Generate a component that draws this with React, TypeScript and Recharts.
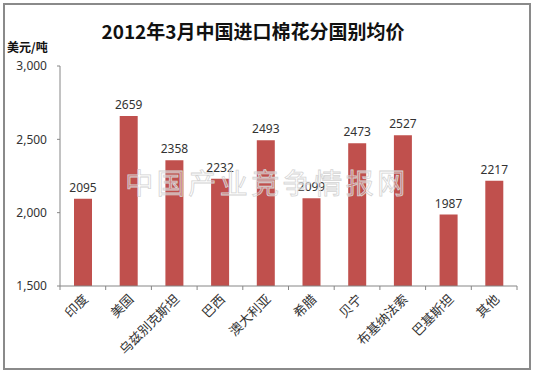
import { BarChart, Bar, XAxis, YAxis, LabelList } from "recharts";

// 2012年3月 中国进口棉花 分国别均价（美元/吨）
const countries = [
  "印度",
  "美国",
  "乌兹别克斯坦",
  "巴西",
  "澳大利亚",
  "希腊",
  "贝宁",
  "布基纳法索",
  "巴基斯坦",
  "其他",
];
const prices = [2095, 2659, 2358, 2232, 2493, 2099, 2473, 2527, 1987, 2217];
const yTicks = [1500, 2000, 2500, 3000];

const chartData = countries.map((name, i) => ({ name, price: prices[i] }));

if (typeof document !== "undefined") document.body.style.margin = "0";

const CJK = '"Noto Sans CJK SC", "Noto Sans", sans-serif';
const AXIS = "#868686";

// category label rotated 45°, plus Excel-style ticks on the category boundaries
function CategoryTick(props: any) {
  const { x, y, payload, index, visibleTicksCount } = props;
  const half = payload.offset || 0;
  const last = index === visibleTicksCount - 1;
  return (
    <g>
      <line x1={x - half} x2={x - half} y1={y} y2={y + 4} stroke={AXIS} />
      {last && <line x1={x + half} x2={x + half} y1={y} y2={y + 4} stroke={AXIS} />}
      <text
        x={x + 6}
        y={y + 14}
        textAnchor="end"
        transform={`rotate(-45 ${x + 6} ${y + 14})`}
        fontSize={13}
        fontFamily={CJK}
        fill="#333"
      >
        {payload.value}
      </text>
    </g>
  );
}

export default function App() {
  return (
    <div style={{ position: "relative", width: 534, height: 371, background: "#fff" }}>
      <div
        style={{
          position: "absolute",
          left: 3,
          top: 3,
          width: 524,
          height: 363,
          border: "2px solid #8a8a8a",
        }}
      />
      <div
        style={{
          position: "absolute",
          left: 0,
          width: 506,
          top: 17,
          textAlign: "center",
          fontFamily: CJK,
          fontWeight: 700,
          fontSize: 19,
          color: "#111",
          lineHeight: "28px",
        }}
      >
        2012年3月中国进口棉花分国别均价
      </div>
      <div
        style={{
          position: "absolute",
          left: 7,
          top: 39,
          fontFamily: CJK,
          fontWeight: 700,
          fontSize: 12,
          color: "#111",
          lineHeight: "16px",
        }}
      >
        美元/吨
      </div>

      <div style={{ position: "absolute", left: 0, top: 0 }}>
        <BarChart
          width={534}
          height={371}
          data={chartData}
          margin={{ top: 66, right: 17, bottom: 5, left: 8 }}
        >
          <XAxis
            dataKey="name"
            interval={0}
            height={80}
            tickSize={0}
            tickMargin={0}
            tickLine={false}
            axisLine={{ stroke: AXIS }}
            tick={<CategoryTick />}
          />
          <YAxis
            domain={[1500, 3000]}
            ticks={yTicks}
            width={52}
            tickSize={3}
            tickMargin={10}
            tickLine={{ stroke: AXIS }}
            axisLine={{ stroke: AXIS }}
            allowDataOverflow
            tickFormatter={(v: number) => v.toLocaleString("en-US")}
            tick={{ fontSize: 12, fill: "#333", fontFamily: '"Noto Sans", sans-serif' }}
          />
          <Bar dataKey="price" fill="#C0504D" barSize={18} isAnimationActive={false}>
            <LabelList
              dataKey="price"
              position="top"
              offset={7}
              fontSize={12}
              fill="#333"
              fontFamily='"Noto Sans", sans-serif'
            />
          </Bar>
        </BarChart>
      </div>

      {/* 水印 */}
      <svg
        width={534}
        height={371}
        style={{ position: "absolute", left: 0, top: 0, pointerEvents: "none" }}
      >
        <text
          x={267}
          y={194}
          textAnchor="middle"
          fontSize={28}
          fontFamily={CJK}
          letterSpacing={3.5}
          fill="rgba(255,255,255,0.3)"
          stroke="#d4d4d4"
          strokeWidth={0.8}
        >
          中国产业竞争情报网
        </text>
      </svg>
    </div>
  );
}
